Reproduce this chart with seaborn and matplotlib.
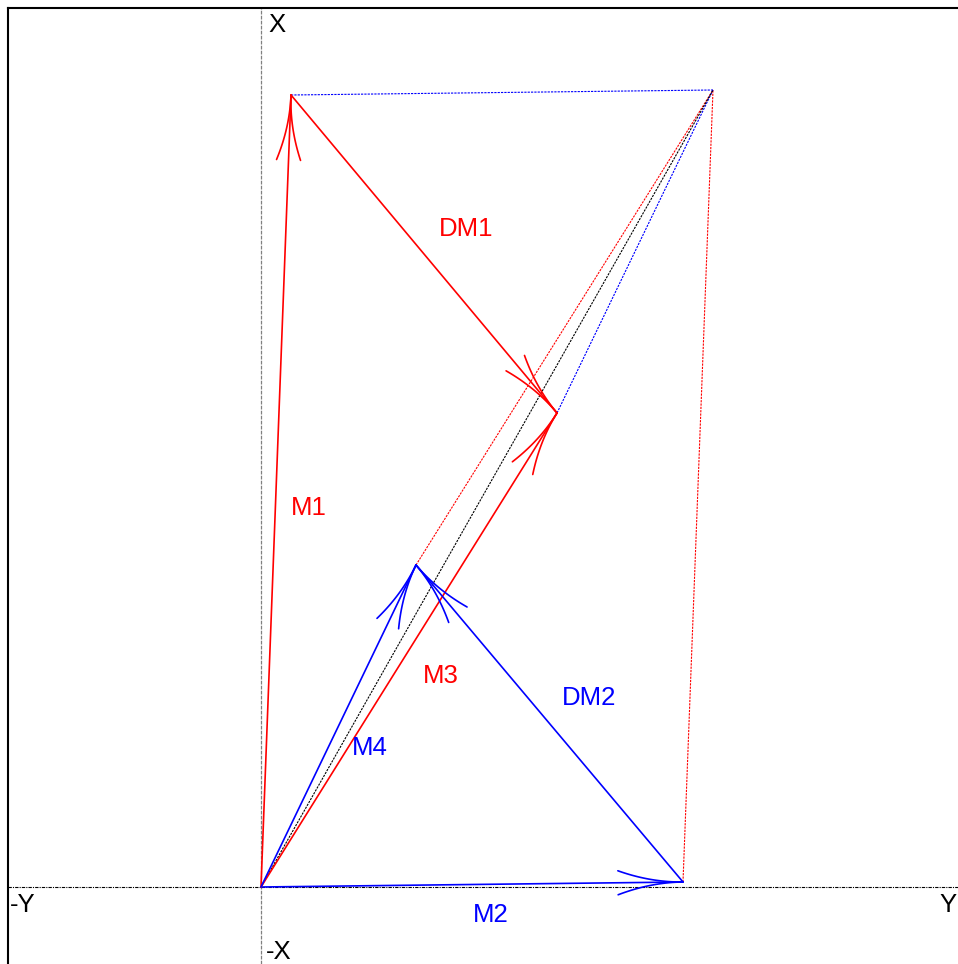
import numpy as np
import matplotlib
matplotlib.use("Agg")
import matplotlib.pyplot as plt
import seaborn as sns

# vector end points (u = "Y" axis to the right, v = "X" axis upward)
vec_names = ["M1", "M2", "M3", "M4"]
vec_u = [30, 422, 296, 155]
vec_v = [792, 5, 474, 322]
vec_colors = ["red", "blue", "red", "blue"]

# difference vectors: DM1 = M3 - M1 (from M1), DM2 = M4 - M2 (from M2)
diff_names = ["DM1", "DM2"]
diff_from = ["M1", "M2"]
diff_to = ["M3", "M4"]
diff_colors = ["red", "blue"]

sns.set_theme(style="white")
plt.rcParams['font.family'] = ['Liberation Sans', 'DejaVu Sans']

pts = {n: np.array([u, v], float) for n, u, v in zip(vec_names, vec_u, vec_v)}
P = pts["M1"] + pts["M2"]
O = np.array([0.0, 0.0])

fig = plt.figure(figsize=(9.58, 9.64), dpi=100)
ax = fig.add_axes([8 / 958, 0, 950 / 958, 956 / 964])
ax.set_xlim(-253, 697)
ax.set_ylim(-77, 879)
ax.set_xticks([])
ax.set_yticks([])
for s in ['right', 'bottom']:
    ax.spines[s].set_visible(False)
for s in ['left', 'top']:
    ax.spines[s].set_color('black')
    ax.spines[s].set_linewidth(1.5)

# axes through origin
ax.axvline(0, color='gray', lw=0.9, ls=(0, (3, 1)))
ax.axhline(0, color='black', lw=0.8, ls=(0, (3, 1, 1, 1)))


def seg(a, b, color, lw=1.2, ls='-'):
    ax.plot([a[0], b[0]], [a[1], b[1]], color=color, lw=lw, ls=ls)


def head(a, b, color, L=65, w=12):
    # curved arrowhead: two parabolic strokes going back from the tip
    d = (b - a) / np.linalg.norm(b - a)
    n = np.array([-d[1], d[0]])
    t = np.linspace(0, 1, 30)
    for sgn in (1, -1):
        xy = b[None, :] - (L * t)[:, None] * d[None, :] + (sgn * w * t ** 2)[:, None] * n[None, :]
        ax.plot(xy[:, 0], xy[:, 1], color=color, lw=1.2)


# parallelogram dashed lines
dash = (0, (2, 1))
seg(pts["M1"], P, 'blue', lw=0.8, ls=dash)
seg(pts["M2"], P, 'red', lw=0.8, ls=dash)
seg(pts["M4"], P, 'red', lw=0.8, ls=dash)
seg(pts["M3"], P, 'blue', lw=0.8, ls=dash)
seg(O, P, 'black', lw=0.8, ls=dash)

# main vectors
for n, c in zip(vec_names, vec_colors):
    seg(O, pts[n], c)
    head(O, pts[n], c)

for n, a, b, c in zip(diff_names, diff_from, diff_to, diff_colors):
    seg(pts[a], pts[b], c)
    head(pts[a], pts[b], c)

fs = 18.5
labels = [("DM1", 205, 658, 'red'), ("M1", 48, 379, 'red'), ("M3", 180, 211, 'red'),
          ("DM2", 328, 189, 'blue'), ("M4", 109, 139, 'blue'), ("M2", 230, -28, 'blue')]
for t, x, y, c in labels:
    ax.text(x, y, t, color=c, fontsize=fs, ha='center', va='center')

ax.text(7, 862, "X", fontsize=fs, color='black', ha='left', va='center')
ax.text(-251, -18, "-Y", fontsize=fs, color='black', ha='left', va='center')
ax.text(696, -18, "Y", fontsize=fs, color='black', ha='right', va='center')
ax.text(5, -65, "-X", fontsize=fs, color='black', ha='left', va='center')

fig.savefig("out.png", dpi=100)
